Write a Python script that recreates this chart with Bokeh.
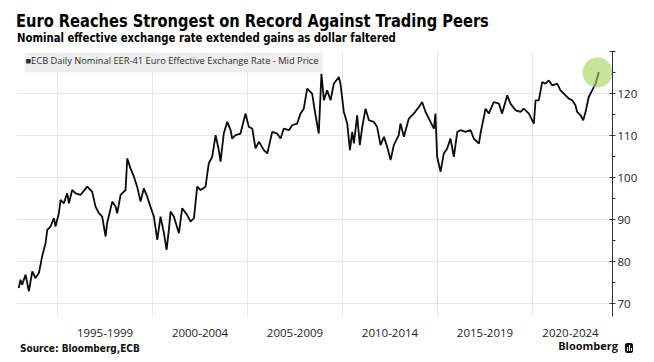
from bokeh.plotting import figure
from bokeh.models import FixedTicker, Label, Range1d, Div
from bokeh.layouts import column
from bokeh.embed import file_html
from bokeh.resources import INLINE

title_text = "Euro Reaches Strongest on Record Against Trading Peers"
subtitle_text = "Nominal effective exchange rate extended gains as dollar faltered"
legend_text = "\u25a0ECB Daily Nominal EER-41 Euro Effective Exchange Rate - Mid Price"
source_text = "Source: Bloomberg,ECB"
brand_text = "Bloomberg"

years = [1992.96, 1993.05, 1993.14, 1993.32, 1993.49, 1993.67, 1993.84, 1994.02, 1994.19, 1994.37,
         1994.46, 1994.63, 1994.81, 1994.89, 1995.07, 1995.16, 1995.33, 1995.51, 1995.60, 1995.77,
         1995.95, 1996.21, 1996.56, 1996.82, 1997.00, 1997.18, 1997.35, 1997.53, 1997.61, 1997.88,
         1998.05, 1998.14, 1998.32, 1998.58, 1998.67, 1998.84, 1999.02, 1999.19, 1999.37, 1999.54,
         1999.72, 1999.89, 2000.07, 2000.25, 2000.42, 2000.60, 2000.74, 2000.86, 2000.95, 2001.12,
         2001.39, 2001.56, 2001.82, 2002.00, 2002.18, 2002.35, 2002.53, 2002.79, 2002.96, 2003.14,
         2003.32, 2003.49, 2003.58, 2003.75, 2003.93, 2004.11, 2004.19, 2004.37, 2004.63, 2004.89,
         2005.07, 2005.25, 2005.42, 2005.60, 2005.86, 2006.04, 2006.30, 2006.56, 2006.74, 2006.91,
         2007.18, 2007.35, 2007.61, 2007.79, 2007.96, 2008.14, 2008.40, 2008.58, 2008.75, 2008.89,
         2009.02, 2009.19, 2009.37,
         2009.54, 2009.81, 2009.89, 2010.07, 2010.25, 2010.39, 2010.51, 2010.60, 2010.77, 2010.91,
         2011.04, 2011.21, 2011.39, 2011.65, 2011.82, 2012.00, 2012.18, 2012.35, 2012.53, 2012.70,
         2012.96, 2013.05, 2013.23, 2013.49, 2013.75, 2014.02, 2014.19, 2014.37, 2014.63, 2014.81,
         2014.89, 2014.98, 2015.16, 2015.33, 2015.51, 2015.68, 2015.86, 2016.04, 2016.21, 2016.47,
         2016.74, 2016.91, 2017.18, 2017.26, 2017.53, 2017.70, 2017.96, 2018.23, 2018.40, 2018.67,
         2018.84, 2019.11, 2019.37, 2019.54, 2019.81, 2020.07, 2020.16, 2020.33, 2020.51, 2020.68,
         2020.86, 2021.04, 2021.30, 2021.47, 2021.74, 2021.91, 2022.09, 2022.26, 2022.35, 2022.53,
         2022.67, 2022.79, 2022.96, 2023.14, 2023.32, 2023.49]

eer_values = [73.76, 75.73, 74.55, 76.92, 72.97, 77.71, 76.13, 77.31, 81.26, 84.42,
              87.58, 88.37, 90.35, 88.37, 91.53, 94.69, 93.90, 96.27, 93.90, 97.06,
              96.27, 95.88, 97.85, 96.67, 93.11, 91.53, 90.74, 86.00, 89.16, 94.30,
              93.11, 91.53, 95.88, 97.06, 104.57, 102.20, 100.22, 97.85, 94.30, 97.46,
              95.48, 93.11, 90.74, 85.21, 90.74, 86.79, 82.84, 87.58, 91.93, 90.74,
              86.79, 92.72, 91.14, 89.56, 90.35, 97.85, 97.06, 97.85, 103.38, 104.96,
              110.09, 106.54, 103.78, 110.49, 113.25, 111.28, 109.30, 110.09, 110.49, 115.23,
              112.07, 111.67, 106.94, 108.52, 106.54, 105.75, 110.88, 110.49, 109.30, 111.67,
              111.28, 112.46, 112.86, 115.23, 116.41, 121.15, 119.97, 114.83, 110.49, 124.71,
              118.39, 120.76, 118.39,
              122.34, 123.92, 122.34, 115.62, 112.86, 106.54, 110.88, 108.12, 114.83, 107.73,
              112.07, 116.41, 113.65, 113.25, 112.07, 107.73, 109.70, 107.33, 104.17, 107.73,
              110.09, 112.86, 109.70, 114.04, 115.23, 116.81, 117.99, 115.62, 113.25, 111.67,
              115.23, 104.96, 101.41, 105.75, 106.94, 109.30, 104.96, 110.88, 111.28, 110.88,
              111.28, 109.30, 108.12, 110.49, 116.41, 115.23, 117.99, 117.60, 115.23, 119.57,
              117.60, 116.02, 115.62, 116.41, 115.23, 112.86, 118.39, 118.39, 122.73, 122.34,
              123.13, 121.94, 122.34, 120.76, 119.57, 118.78, 118.39, 117.20, 115.62, 114.83,
              113.65, 115.62, 119.18, 120.76, 122.34, 125.10]

highlight_year = [2023.42]
highlight_value = [125.0]

period_labels = ["1995-1999", "2000-2004", "2005-2009", "2010-2014", "2015-2019", "2020-2024"]
period_label_pos = [1997.5, 2002.5, 2007.5, 2012.5, 2017.5, 2022.0]
period_bounds = [1995, 2000, 2005, 2010, 2015, 2020]
y_ticks = [70, 80, 90, 100, 110, 120, 130]
y_minor = [75, 85, 95, 105, 115, 125]

BOLD_COND = ("font-family:'DejaVu Sans Condensed','DejaVu Sans',sans-serif;"
             "font-stretch:condensed;font-weight:bold;white-space:nowrap;color:#000;"
             "transform-origin:0 0;")

header = Div(
    width=654, height=51, margin=0,
    text=(
        "<div style='position:relative;width:654px;height:51px;'>"
        f"<div style=\"position:absolute;left:16px;top:13px;{BOLD_COND}font-size:17.5px;line-height:17.5px;transform:scaleX(0.93);\">{title_text}</div>"
        f"<div style=\"position:absolute;left:17px;top:32px;{BOLD_COND}font-size:12.5px;line-height:12.5px;transform:scaleX(0.9);\">{subtitle_text}</div>"
        "</div>"
    ),
)

p = figure(width=640, height=288, output_backend="svg", toolbar_location=None,
           x_range=Range1d(1992.84, 2024.21), y_range=Range1d(66.97, 130),
           y_axis_location="right", margin=0,
           min_border_left=16, min_border_right=28, min_border_top=0, min_border_bottom=22)
p.outline_line_color = None
p.background_fill_color = "white"
p.border_fill_color = "white"

# grids
p.xgrid.ticker = FixedTicker(ticks=period_bounds)
p.xgrid.grid_line_color = "#cfcfcf"
p.xgrid.grid_line_dash = "1 1"
p.ygrid.ticker = FixedTicker(ticks=y_ticks)
p.ygrid.grid_line_color = "#cfcfcf"
p.ygrid.grid_line_dash = "1 1"

# x axis
p.xaxis.ticker = FixedTicker(ticks=period_label_pos)
p.xaxis.major_label_overrides = {pos: lab for pos, lab in zip(period_label_pos, period_labels)}
p.xaxis.axis_line_color = None
p.xaxis.major_tick_line_color = None
p.xaxis.minor_tick_line_color = None
p.xaxis.major_label_standoff = 6
p.xaxis.major_label_text_font = "Open Sans"
p.xaxis.major_label_text_font_size = "11.5px"
p.xaxis.major_label_text_color = "#222222"

# y axis
p.yaxis.ticker = FixedTicker(ticks=y_ticks, minor_ticks=y_minor)
p.yaxis.major_label_overrides = {130: ""}
p.yaxis.axis_line_color = "#333333"
p.yaxis.major_tick_line_color = "#333333"
p.yaxis.minor_tick_line_color = "#333333"
p.yaxis.major_tick_in = 3
p.yaxis.major_tick_out = 3
p.yaxis.minor_tick_in = 0
p.yaxis.minor_tick_out = 3
p.yaxis.major_label_standoff = 2
p.yaxis.major_label_text_font = "Open Sans"
p.yaxis.major_label_text_font_size = "11.5px"
p.yaxis.major_label_text_color = "#222222"

p.line(years, eer_values, line_color="#0a0a0a", line_width=1.8)
p.scatter(highlight_year, highlight_value, size=30, fill_color="#a3d057", fill_alpha=0.6,
          line_color=None)

p.add_layout(Label(x=8, y=254, x_units="screen", y_units="screen", text=legend_text,
                   text_font="Open Sans", text_font_size="9.3px", text_color="#2a2a2a",
                   text_baseline="middle", background_fill_color="#eeeeee",
                   padding=(1, 4, 1, 6)))

icon = ("<div style='position:absolute;left:625px;top:4px;width:8px;height:10px;"
        "background:#111;border-radius:2px;'>"
        "<div style='position:absolute;left:2px;top:4px;width:1px;height:4px;background:#fff;'></div>"
        "<div style='position:absolute;left:4px;top:2px;width:1px;height:6px;background:#fff;'></div>"
        "<div style='position:absolute;left:6px;top:5px;width:1px;height:3px;background:#fff;'></div>"
        "</div>")

footer = Div(
    width=654, height=19, margin=0,
    text=(
        "<div style='position:relative;width:654px;height:19px;'>"
        f"<div style=\"position:absolute;left:20px;top:5px;font-family:'DejaVu Sans Condensed','DejaVu Sans',sans-serif;font-stretch:condensed;font-weight:bold;font-size:10px;line-height:10px;white-space:nowrap;color:#111;\">{source_text}</div>"
        f"<div style=\"position:absolute;right:36px;top:1px;font-family:'Open Sans',sans-serif;font-weight:bold;font-size:11px;line-height:11px;white-space:nowrap;color:#111;\">{brand_text}</div>"
        + icon +
        "</div>"
    ),
)

layout = column(header, p, footer, spacing=0, margin=0)

open("out.html", "w").write(file_html(layout, INLINE))
